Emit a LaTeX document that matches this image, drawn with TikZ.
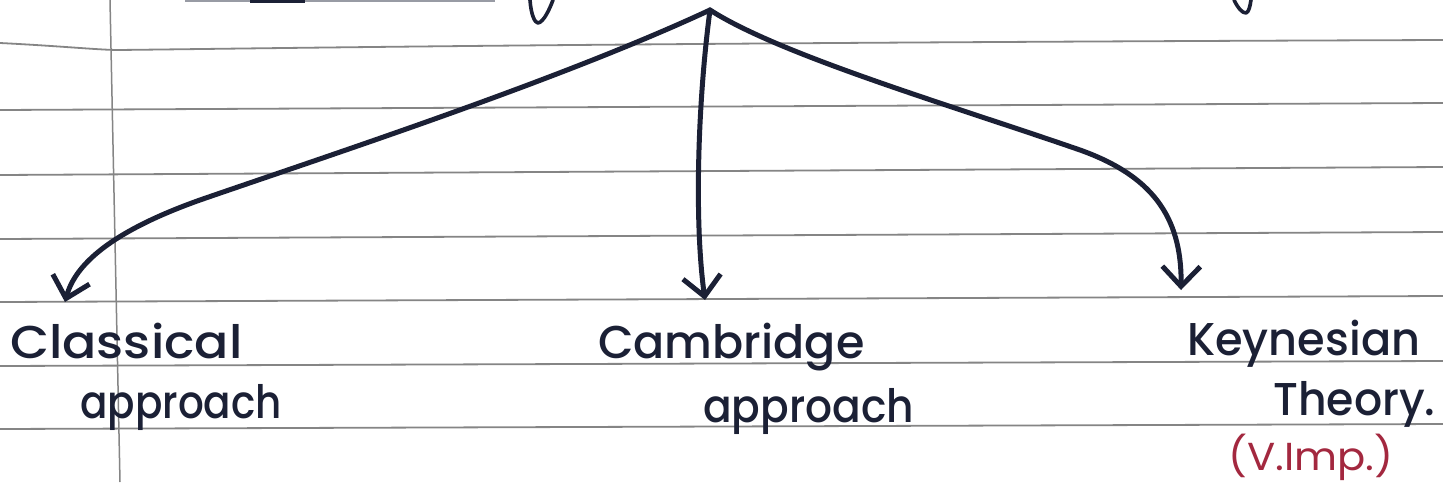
\documentclass[tikz,border=0pt]{standalone}
\usepackage{fontspec}
\setmainfont{Poppins}
\newfontfamily\handfont{Poppins}[UprightFont={* Medium}]
\usetikzlibrary{arrows.meta}
\definecolor{ink}{HTML}{1B2035}
\definecolor{redink}{HTML}{A3283F}
\definecolor{ruleline}{HTML}{858585}
\begin{document}
\begin{tikzpicture}[x=1pt,y=-1pt,
  pen/.style={draw=ink,line width=5pt,line cap=round,line join=round},
  arr/.style={pen,-{Straight Barb[length=20pt,width=38pt]}},
  ruled/.style={draw=ruleline,line width=1.8pt},
  hand/.style={inner sep=0pt,anchor=base west,text=ink,font=\handfont\fontsize{46}{50}\selectfont},
  redhand/.style={hand,text=redink,font=\fontsize{39}{42}\selectfont}]
\useasboundingbox (0,0) rectangle (1443,482);
\fill[white] (0,0) rectangle (1443,482);
% ruled paper
\draw[ruled] (0,43) .. controls (60,46) and (100,50) .. (118,50) .. controls (300,48) and (600,43) .. (1443,40);
\draw[ruled] (0,110) -- (1443,103);
\draw[ruled] (0,175) -- (1443,167);
\draw[ruled] (0,239) -- (1443,232);
\draw[ruled] (0,302) -- (1443,296);
\draw[ruled] (0,366) -- (1443,361);
\draw[ruled] (0,429) -- (1443,424);
\draw[draw=ruleline,line width=1.5pt] (110,0) -- (120,482);
% fragments at the top edge
\draw[draw=ink!45,line width=3pt] (185,0) -- (495,0);
\draw[draw=ink,line width=5pt] (250,0) -- (305,0);
\draw[pen,line width=3.6pt] (530,0) .. controls (531,15) and (535,23) .. (538,23) .. controls (544,22) and (550,8) .. (553,0);
\draw[pen,line width=3.6pt] (1234,0) .. controls (1238,8) and (1242,13) .. (1246,13) .. controls (1249,12) and (1250,6) .. (1251,0);
% tree
\coordinate (root) at (710,10);
\coordinate (tipL) at (65,302);
\coordinate (tipM) at (705,300);
\coordinate (tipR) at (1181,290);
\draw[arr] (root) .. controls (560,80) and (330,155) .. (200,200) .. controls (110,232) and (75,265) .. (tipL);
\draw[arr] (root) .. controls (698,100) and (694,220) .. (tipM);
\draw[arr] (root) .. controls (780,55) and (950,105) .. (1080,150) .. controls (1150,175) and (1182,215) .. (tipR);
% labels
\node[hand] (classical) at (10,358) {\scalebox{1.1}[1]{Classical}};
\node[hand] (approachA) at (80,418) {\scalebox{0.88}[1]{approach}};
\node[hand] (cambridge) at (598,358) {Cambridge};
\node[hand] (approachB) at (703,422) {\scalebox{0.92}[1]{approach}};
\node[hand] (keynesian) at (1187,355) {\scalebox{0.97}[1]{Keynesian}};
\node[hand] (theory) at (1273,415) {\scalebox{0.96}[1]{Theory.}};
\node[redhand] (vimp) at (1228,470) {\scalebox{1.07}[1]{(V.Imp.)}};
\end{tikzpicture}
\end{document}
